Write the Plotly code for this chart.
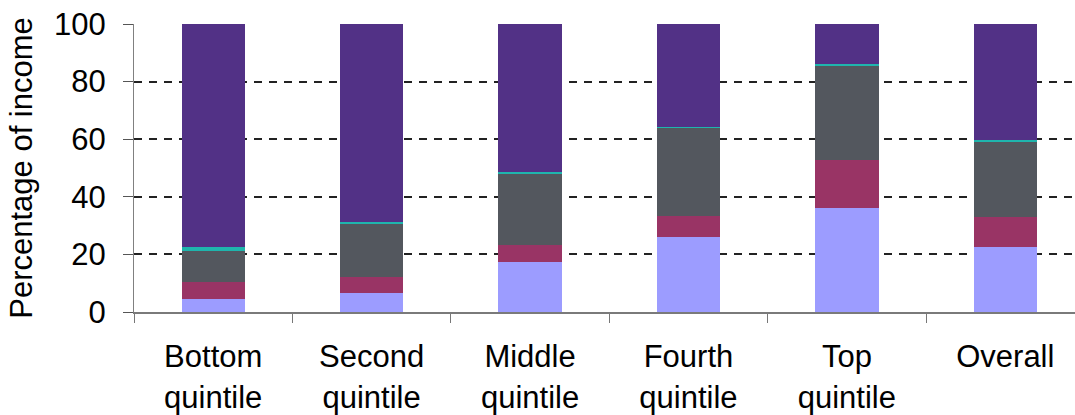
import plotly.graph_objects as go

# Income groups along the x axis
categories = ["Bottom<br>quintile", "Second<br>quintile", "Middle<br>quintile",
              "Fourth<br>quintile", "Top<br>quintile", "Overall"]

# Share of income by component (percent), stacked bottom to top
comp_a = [4.6, 6.7, 17.2, 25.9, 36.0, 22.4]
comp_b = [5.9, 5.4, 5.9, 7.3, 16.7, 10.5]
comp_c = [10.8, 18.3, 24.7, 30.7, 32.8, 26.1]
comp_d = [1.3, 0.7, 0.7, 0.2, 0.7, 0.7]
comp_e = [77.4, 68.9, 51.5, 35.9, 13.8, 40.3]

y_ticks = [0, 20, 40, 60, 80, 100]

series = [
    (comp_a, "#9c9cff"),
    (comp_b, "#993465"),
    (comp_c, "#53575e"),
    (comp_d, "#1fb5ad"),
    (comp_e, "#523186"),
]

fig = go.Figure()
for values, color in series:
    fig.add_trace(go.Bar(
        x=categories, y=values, width=0.40,
        marker=dict(color=color, line=dict(width=0)),
        hoverinfo="skip",
    ))

font_family = "Liberation Sans, Arial, sans-serif"

fig.update_layout(
    barmode="stack",
    showlegend=False,
    width=1075, height=415,
    margin=dict(l=134, r=0, t=24, b=103),
    plot_bgcolor="white",
    paper_bgcolor="white",
    font=dict(family=font_family, color="black"),
    xaxis=dict(
        type="category",
        range=[-0.5, 5.44],
        automargin=False,
        tickson="boundaries",
        ticks="outside", ticklen=9, tickwidth=1, tickcolor="#777",
        showline=True, linecolor="#7a7a7a", linewidth=2,
        showgrid=False,
        tickfont=dict(size=31, family=font_family),
        ticklabelstandoff=16,
    ),
    yaxis=dict(
        range=[0, 100],
        tickvals=y_ticks,
        automargin=False,
        ticks="outside", ticklen=10, tickwidth=1, tickcolor="#555",
        showline=True, linecolor="#808080", linewidth=1,
        showgrid=True, gridcolor="#222222", gridwidth=1.5, griddash="8px,7px",
        zeroline=False,
        tickfont=dict(size=31, family=font_family),
        ticklabelstandoff=11,
        title=dict(text="Percentage of income", font=dict(size=31, family=font_family),
                   standoff=12),
    ),
)

fig.write_html("out.html")
